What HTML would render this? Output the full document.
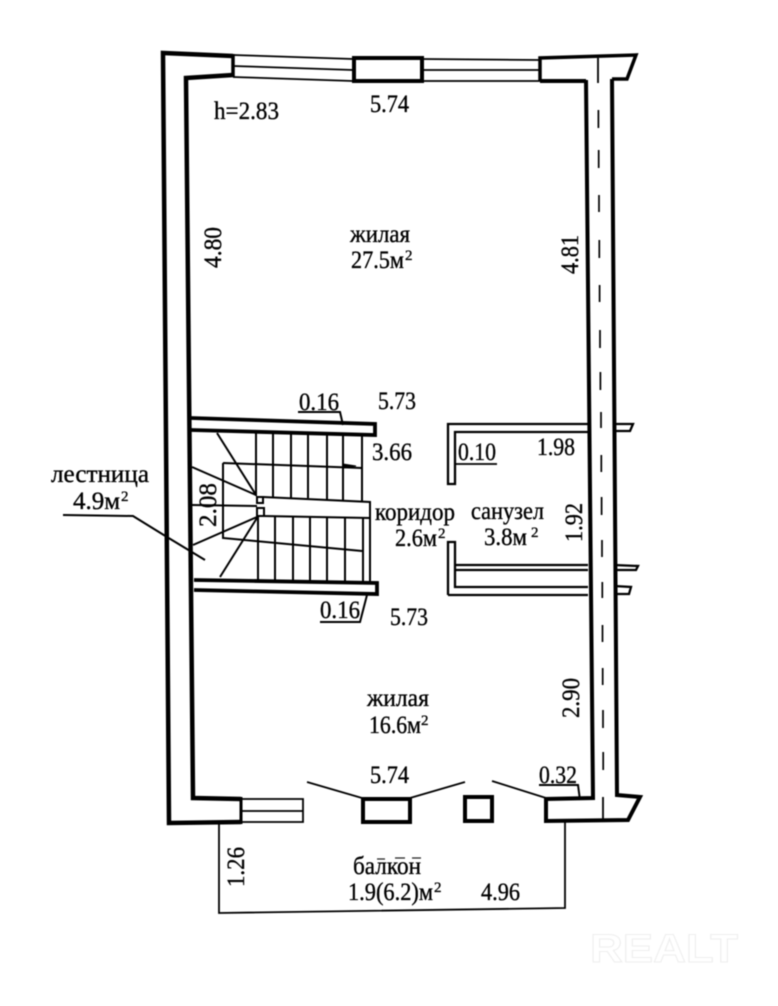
<!DOCTYPE html>
<html><head><meta charset="utf-8"><style>
html,body{margin:0;padding:0;background:#fff;width:778px;height:1006px;overflow:hidden}
svg{display:block;filter:blur(.45px)}
text{font-family:"Liberation Serif",serif;fill:#000;stroke:#000;stroke-width:.35px;font-size:25px}
.s{font-size:15px}
.w{fill:none;stroke:#000;stroke-linejoin:miter}
</style></head><body>
<svg width="778" height="1006" viewBox="0 0 778 1006" xmlns="http://www.w3.org/2000/svg">
<!-- watermark -->
<text x="590" y="962" textLength="148" lengthAdjust="spacingAndGlyphs" style="font-family:'Liberation Sans',sans-serif;font-size:40px;font-weight:bold;fill:#fff;stroke:#eee;stroke-width:1">REALT</text>

<!-- outer wall left -->
<g class="w" stroke-width="4.5">
<path d="M233 56 L163 53 L169 823 L241 822"/>
<path d="M233 75 L186 78 L193 798 L241 799"/>
<path d="M241 797 V824" stroke-width="3"/>
<path d="M233 54 V77" stroke-width="3.5"/>
<!-- top piers -->
<path d="M354 58 H422 V81 H354 Z" stroke-width="4"/>
<path d="M540 81 V58 L636 55 L627 79 H612" stroke-width="3.5"/>
<path d="M540 81 H586" stroke-width="4"/>
<!-- right wall -->
<path d="M586 80 L593 798 L546 799 V821 L628 820 L640 797 L617 795 L612 79" stroke-width="4"/>
<!-- bottom piers -->
<path d="M363 799 H410 V822 H363 Z" stroke-width="4"/>
<path d="M465 797 H492 V821 H465 Z" stroke-width="4"/>
</g>

<!-- windows -->
<g class="w" stroke-width="1.8">
<path d="M233 55 L353 59 M233 66 L353 70 M233 77 L353 81"/>
<path d="M422 59 L540 60 M422 70 L540 70 M422 81 L540 81"/>
<path d="M241 799 H303 V822 H241 M241 811 H303"/>
<path d="M307 782 L362 798 M465 782 L410 798 M492 781 L546 798"/>
<path d="M219 822 V913 L565 908 V821"/>
<path d="M598 58 V83 M603 797 V820"/>
</g>

<!-- dashes -->
<g class="w" stroke-width="1.7">
<path d="M598.4 110 V128 M598.7 150 V168 M599 195 V212 M599.3 240 V258 M599.6 285 V302 M600 330 V348 M600.4 372 V390 M601 412 V428 M601.3 455 V472 M601.6 497 V515 M602 540 V557 M602.3 582 V598 M602.5 625 V642 M602.7 668 V685 M603 710 V728 M603.2 752 V770"/>
</g>

<!-- stair walls -->
<g class="w" stroke-width="3.8">
<path d="M191 418 L375 424 V435 L191 430"/>
<path d="M194 580 L377 583 V594 L194 590"/>
</g>

<!-- stairs -->
<g class="w" stroke-width="2">
<path d="M256 433 V496 M273 433 V497 M291 434 V498 M308 434 V498 M327 435 V499 M343 435 V500 M362 436 V501"/>
<path d="M258 516 V580 M275 516 V581 M293 517 V581 M310 517 V581 M327 517 V582 M345 518 V582 M363 518 V582"/>
<path d="M223 463 L362 468"/>
<path d="M223 463 V538 L362 551"/>
<path d="M263 497 L370 502 V582"/>
<path d="M263 516 L370 518"/>
<path d="M192 505 L257 506"/>
<path d="M217 433 L256 495 M192 467 L256 495 M193 545 L257 517 M220 577 L257 518"/>
<path d="M257 497 H263 V503 H257 Z M257 508 H264 V516 H257 Z"/>
<path d="M63 515 L133 516 L167 537 L205 560"/>
<path d="M298 412 H340 L343 425"/>
<path d="M320 622 H360 L367 595"/>
<path d="M539 785 H578 L580 800"/>
</g>
<path d="M343 464 L356 466 L343 468 Z" fill="#000" stroke="#000"/>

<!-- bathroom partitions -->
<g class="w" stroke-width="2.3">
<path d="M588 424 H448 V484 H455 V432 H588"/>
<path d="M448 595 V542 H455 V587 H588 M448 595 H588"/>
<path d="M456 565 H588 M456 570 H588"/>
<path d="M614 424 L633 424 L630 431 H614"/>
<path d="M614 565 L638 566 L636 570 H614"/>
<path d="M614 586 L631 587 L629 594 H614"/>
<path d="M454 464 H497" stroke-width="1.7"/>
</g>

<!-- labels -->
<text x="214" y="119" textLength="65" lengthAdjust="spacingAndGlyphs">h=2.83</text>
<text x="370" y="112" textLength="39" lengthAdjust="spacingAndGlyphs">5.74</text>
<text x="350" y="242" textLength="60" lengthAdjust="spacingAndGlyphs">жилая</text>
<text x="351" y="268" textLength="53" lengthAdjust="spacingAndGlyphs">27.5м</text><text x="405" y="260" class="s">2</text>
<text transform="translate(221,268) rotate(-90)" textLength="41" lengthAdjust="spacingAndGlyphs">4.80</text>
<text transform="translate(578,274) rotate(-90)" textLength="39" lengthAdjust="spacingAndGlyphs">4.81</text>
<text x="299" y="410" textLength="40" lengthAdjust="spacingAndGlyphs">0.16</text>
<text x="378" y="409" textLength="38" lengthAdjust="spacingAndGlyphs">5.73</text>
<text x="372" y="460" textLength="40" lengthAdjust="spacingAndGlyphs">3.66</text>
<text x="458" y="460" textLength="38" lengthAdjust="spacingAndGlyphs">0.10</text>
<text x="537" y="455" textLength="38" lengthAdjust="spacingAndGlyphs">1.98</text>
<text x="51" y="482" textLength="98" lengthAdjust="spacingAndGlyphs">лестница</text>
<text x="73" y="509" textLength="47" lengthAdjust="spacingAndGlyphs">4.9м</text><text x="121" y="501" class="s">2</text>
<text transform="translate(216,527) rotate(-90)" textLength="44" lengthAdjust="spacingAndGlyphs">2.08</text>
<text x="375" y="520" textLength="80" lengthAdjust="spacingAndGlyphs">коридор</text>
<text x="395" y="546" textLength="42" lengthAdjust="spacingAndGlyphs">2.6м</text><text x="438" y="538" class="s">2</text>
<text x="471" y="519" textLength="73" lengthAdjust="spacingAndGlyphs">санузел</text>
<text x="484" y="545" textLength="43" lengthAdjust="spacingAndGlyphs">3.8м</text><text x="531" y="537" class="s">2</text>
<text transform="translate(582,542) rotate(-90)" textLength="39" lengthAdjust="spacingAndGlyphs">1.92</text>
<text x="320" y="618" textLength="40" lengthAdjust="spacingAndGlyphs">0.16</text>
<text x="390" y="625" textLength="38" lengthAdjust="spacingAndGlyphs">5.73</text>
<text x="367" y="706" textLength="62" lengthAdjust="spacingAndGlyphs">жилая</text>
<text x="369" y="733" textLength="52" lengthAdjust="spacingAndGlyphs">16.6м</text><text x="421" y="725" class="s">2</text>
<text transform="translate(579,718) rotate(-90)" textLength="40" lengthAdjust="spacingAndGlyphs">2.90</text>
<text x="370" y="783" textLength="39" lengthAdjust="spacingAndGlyphs">5.74</text>
<text x="539" y="783" textLength="38" lengthAdjust="spacingAndGlyphs">0.32</text>
<text transform="translate(244,887) rotate(-90)" textLength="40" lengthAdjust="spacingAndGlyphs">1.26</text>
<text x="353" y="874" textLength="68" lengthAdjust="spacingAndGlyphs">балкон</text>
<path d="M377 859 H385 M395 858 H405 M412 858 H421" stroke="#222" stroke-width="1.2"/>
<text x="348" y="900" textLength="85" lengthAdjust="spacingAndGlyphs">1.9(6.2)м</text><text x="434" y="892" class="s">2</text>
<text x="481" y="900" textLength="39" lengthAdjust="spacingAndGlyphs">4.96</text>
</svg>
</body></html>
